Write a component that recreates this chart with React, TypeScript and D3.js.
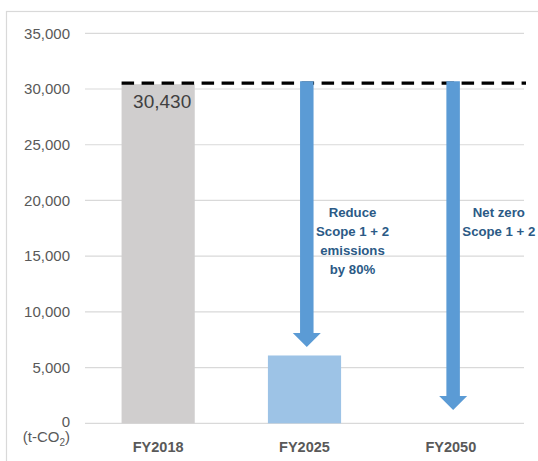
import React from "react";
import * as d3 from "d3";

const categories = ["FY2018", "FY2025", "FY2050"];
const barValues = [30430, 6086, 0];
const barColors = ["#D0CECE", "#9DC3E6", "none"];
const yTicks = [0, 5000, 10000, 15000, 20000, 25000, 30000, 35000];
const baseline = 30430;
const arrowEnds = [
  { cat: "FY2025", end: 6850 },
  { cat: "FY2050", end: 1200 },
];
const notes = [
  { cat: "FY2025", lines: ["Reduce", "Scope 1 + 2", "emissions", "by 80%"] },
  { cat: "FY2050", lines: ["Net zero", "Scope 1 + 2"] },
];

const W = 538;
const H = 461;
const plot = { left: 85, right: 524, top: 33.3, bottom: 423.3 };

export default function App() {
  const x = d3
    .scaleBand<string>()
    .domain(categories)
    .range([plot.left, plot.right])
    .paddingInner(0.5)
    .paddingOuter(0.25);
  const y = d3.scaleLinear().domain([0, 35000]).range([plot.bottom, plot.top]);
  const fmt = d3.format(",");
  const bw = x.bandwidth();
  const font = "'Liberation Sans', Arial, sans-serif";

  const arrowPath = (cx: number, y0: number, y1: number) => {
    const sw = 13.5 / 2;
    const hw = 14;
    const hh = 14;
    return `M${cx - sw},${y0}L${cx + sw},${y0}L${cx + sw},${y1 - hh}L${cx + hw},${y1 - hh}L${cx},${y1}L${cx - hw},${y1 - hh}L${cx - sw},${y1 - hh}Z`;
  };

  return (
    <svg width={W} height={H} style={{ position: "absolute", left: 0, top: 0, background: "#fff" }} fontFamily={font}>
      <rect x={6.5} y={11.5} width={W} height={H} fill="#fff" stroke="#D9D9D9" strokeWidth={1.2} />
      {yTicks.map((t) => (
        <g key={t}>
          <line x1={plot.left} x2={plot.right} y1={y(t)} y2={y(t)} stroke="#D9D9D9" strokeWidth={1.2} />
          <text x={70} y={t === 0 ? y(t) - 2 : y(t)} dy="0.35em" textAnchor="end" fontSize={15} fill="#595959">
            {fmt(t)}
          </text>
        </g>
      ))}
      <text x={70} y={437} dy="0.35em" textAnchor="end" fontSize={15} fill="#595959">
        (t-CO<tspan fontSize={10} dy="4">2</tspan><tspan dy="-4">)</tspan>
      </text>
      {categories.map((c, i) =>
        barValues[i] > 0 ? (
          <rect key={c} x={x(c)!} width={bw} y={y(barValues[i])} height={y(0) - y(barValues[i])} fill={barColors[i]} />
        ) : null
      )}
      <text x={x("FY2018")! + bw / 2 + 4} y={y(barValues[0]) + 17} dy="0.35em" textAnchor="middle" fontSize={19} fill="#404040">
        {fmt(barValues[0])}
      </text>
      <line
        x1={x("FY2018")!}
        x2={plot.right + 2}
        y1={y(baseline) - 1}
        y2={y(baseline) - 1}
        stroke="#000"
        strokeWidth={3.2}
        strokeDasharray="12.5 7.5"
      />
      {arrowEnds.map((a) => {
        const cx = x(a.cat)! + bw / 2 + 2.3;
        return <path key={a.cat} d={arrowPath(cx, y(baseline) - 3, y(a.end))} fill="#5B9BD5" />;
      })}
      {notes.map((n) => {
        const cx = x(n.cat)! + bw / 2 + 48;
        return (
          <text key={n.cat} textAnchor="middle" fontSize={13.2} fontWeight="bold" fill="#2B5A86">
            {n.lines.map((l, i) => (
              <tspan key={i} x={cx} y={y(18900) + i * 19} dy="0.35em">
                {l}
              </tspan>
            ))}
          </text>
        );
      })}
      {categories.map((c) => (
        <text key={c} x={x(c)! + bw / 2} y={446.5} dy="0.35em" textAnchor="middle" fontSize={14.5} fontWeight="bold" fill="#595959">
          {c}
        </text>
      ))}
    </svg>
  );
}
